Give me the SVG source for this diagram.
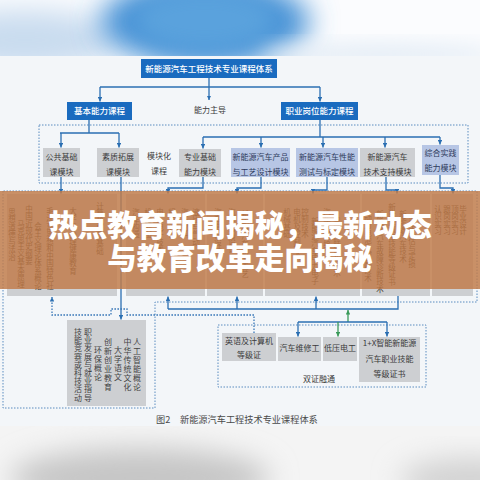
<svg xmlns="http://www.w3.org/2000/svg" width="480" height="480" viewBox="0 0 480 480">
<defs>
<filter id="blur" x="-50%" y="-50%" width="200%" height="200%"><feGaussianBlur stdDeviation="14"/></filter>
<filter id="blur2" x="-50%" y="-50%" width="200%" height="200%"><feGaussianBlur stdDeviation="10"/></filter>
<clipPath id="topClip"><rect x="0" y="0" width="480" height="56"/></clipPath>
<clipPath id="botClip"><rect x="0" y="426" width="480" height="54"/></clipPath>
<marker id="ah" viewBox="0 0 6 6" refX="6" refY="3" markerWidth="4.5" markerHeight="4.5" orient="auto" markerUnits="userSpaceOnUse"><path d="M0,0 L6,3 L0,6 z" fill="#2b6fb2"/></marker>
<marker id="ahg" viewBox="0 0 6 6" refX="6" refY="3" markerWidth="4.5" markerHeight="4.5" orient="auto" markerUnits="userSpaceOnUse"><path d="M0,0 L6,3 L0,6 z" fill="#3a9a5a"/></marker>
</defs>
<style>
.hd{fill:#1a6bbf}
.gb{fill:#cdcfd2}
.lb{fill:#b7c6e5}
.ht{font-family:"Noto Sans CJK SC",sans-serif;font-size:8.5px;fill:#ffffff;text-anchor:middle;font-weight:500}
.bt{font-family:"Noto Sans CJK SC",sans-serif;font-size:8px;fill:#3a3a3a;text-anchor:middle}
.lt{font-family:"Noto Sans CJK SC",sans-serif;font-size:8px;fill:#2e3b5c;text-anchor:middle}
.vt{font-family:"Noto Sans CJK SC",sans-serif;font-size:7.5px;fill:#3b3026;writing-mode:vertical-rl}
.vt2{font-family:"Noto Sans CJK SC",sans-serif;font-size:8px;letter-spacing:0.9px;fill:#444444;writing-mode:vertical-rl}
.ln{fill:none;stroke:#2b6fb2;stroke-width:1.3}
.lg{fill:none;stroke:#3a9a5a;stroke-width:1.3}
.dl{fill:none;stroke:#3a78b8;stroke-width:1.3;stroke-dasharray:1.6 1.4}
.df{fill:none;stroke:#5a8cc0;stroke-width:1;stroke-dasharray:1.5 1.5}
.bn{font-family:"Noto Sans CJK SC",sans-serif;font-size:29.5px;font-weight:900;fill:#ffffff;text-anchor:middle}
</style>

<!-- background -->
<rect x="0" y="0" width="480" height="480" fill="#f3f6f9"/>
<g clip-path="url(#topClip)">
<rect x="0" y="0" width="480" height="56" fill="#fbfcfe"/>
<ellipse cx="25" cy="40" rx="95" ry="30" fill="#c9dcef" filter="url(#blur)"/>
<ellipse cx="205" cy="22" rx="105" ry="44" fill="#4792d6" filter="url(#blur)"/>
<ellipse cx="205" cy="20" rx="70" ry="30" fill="#5aa2dd" filter="url(#blur2)"/>
<ellipse cx="380" cy="54" rx="120" ry="10" fill="#e3ecf5" filter="url(#blur2)"/>
</g>
<g clip-path="url(#botClip)">
<rect x="0" y="426" width="480" height="54" fill="#f4f4f4"/>
<ellipse cx="140" cy="478" rx="130" ry="30" fill="#c6c6c6" filter="url(#blur)"/>
<ellipse cx="470" cy="480" rx="70" ry="22" fill="#d2d2d2" filter="url(#blur)"/>
</g>

<!-- frames -->
<g id="frames">
<rect class="df" x="39" y="125" width="429" height="58"/>
<path class="df" d="M3,191 V408 H155 V302 H477 V191 Z"/>
<rect class="df" x="218" y="325" width="208" height="62"/>
</g>

<!-- header nodes -->
<g id="n-title"><rect class="hd" x="141" y="59" width="136" height="19"/><text class="ht" x="209" y="71.5">新能源汽车工程技术专业课程体系</text></g>
<g id="n-basic"><rect class="hd" x="67" y="102" width="65" height="18"/><text class="ht" x="99.5" y="114">基本能力课程</text></g>
<g id="n-lead"><text class="bt" x="210" y="113" fill="#555">能力主导</text></g>
<g id="n-job"><rect class="hd" x="281" y="102" width="77" height="18"/><text class="ht" x="319.5" y="114">职业岗位能力课程</text></g>

<!-- module nodes -->
<g id="m-public"><rect class="gb" x="43" y="148" width="37" height="29"/><text class="bt" x="61.5" y="159.5">公共基础</text><text class="bt" x="61.5" y="174.5">课模块</text></g>
<g id="m-quality"><rect class="gb" x="97" y="148" width="42" height="29"/><text class="bt" x="118" y="159.5">素质拓展</text><text class="bt" x="118" y="174.5">课模块</text></g>
<g id="m-label"><text class="bt" x="159" y="159" fill="#555">模块化</text><text class="bt" x="159" y="174" fill="#555">课程</text></g>
<g id="m-prof"><rect class="gb" x="179" y="149" width="42" height="28"/><text class="bt" x="200" y="160">专业基础</text><text class="bt" x="200" y="175">能力模块</text></g>
<g id="m-design"><rect class="lb" x="231" y="148" width="59" height="29"/><text class="lt" x="260.5" y="159.5">新能源汽车产品</text><text class="lt" x="260.5" y="174.5">与工艺设计模块</text></g>
<g id="m-test"><rect class="lb" x="296" y="148" width="62" height="29"/><text class="lt" x="327" y="159.5">新能源汽车性能</text><text class="lt" x="327" y="174.5">测试与标定模块</text></g>
<g id="m-support"><rect class="gb" x="360" y="148" width="55" height="29"/><text class="bt" x="387.5" y="159.5">新能源汽车</text><text class="bt" x="387.5" y="174.5">技术支持模块</text></g>
<g id="m-practice"><rect class="lb" x="422" y="145" width="37" height="30"/><text class="lt" x="440.5" y="156">综合实践</text><text class="lt" x="440.5" y="171">能力模块</text></g>

<!-- course row -->
<g id="c-public"><rect class="gb" x="7" y="194" width="110" height="102"/>
<text class="vt" x="12" y="208">思想道德与法治</text>
<text class="vt" x="21" y="220">马克思主义基本原理</text>
<text class="vt" x="29" y="205">中国近现代史纲要</text>
<text class="vt" x="38" y="222">会主义理论体系概论</text>
<text class="vt" x="50" y="207">毛泽东思想和中国特色社</text>
<text class="vt" x="73" y="207">大学生心理健康教育</text>
<text class="vt" x="100" y="202">计算机应用基础</text>
</g>
<g id="c-prof"><rect class="gb" x="126" y="194" width="79" height="102"/>
<text class="vt" x="136" y="208">汽车构造</text>
<text class="vt" x="148" y="208">机械制图</text>
<text class="vt" x="160" y="208">电工电子技术</text>
<text class="vt" x="172" y="208">程序设计</text>
<text class="vt" x="185" y="208">汽车材料</text>
<text class="vt" x="196" y="208">液压与气动</text>
</g>
<g id="c-design"><rect class="gb" x="207" y="194" width="56" height="102"/>
<text class="vt" x="218" y="208">汽车造型设计</text>
<text class="vt" x="232" y="208">汽车结构设计</text>
<text class="vt" x="245" y="210">新能源汽车制造工艺</text>
</g>
<g id="c-test"><rect class="gb" x="265" y="194" width="95" height="102"/>
<text class="vt" x="287" y="208">机械基础</text>
<text class="vt" x="297" y="208">电机及控制技术</text>
<text class="vt" x="305" y="208">控制技术</text>
<text class="vt" x="315" y="217">新能源汽车电力电子</text>
<text class="vt" x="327" y="208">汽车网络技术</text>
<text class="vt" x="337" y="217">智能网联汽车技术</text>
</g>
<g id="c-support"><rect class="gb" x="362" y="194" width="68" height="102"/>
<text class="vt" x="368" y="214">动力电池及控制技术</text>
<text class="vt" x="380" y="210">新能源汽车故障诊断技术</text>
<text class="vt" x="392" y="203">新能源汽车技能等级证书</text>
<text class="vt" x="403" y="210">新能源汽车技术</text>
<text class="vt" x="412" y="215">汽车评估与定损</text>
</g>
<g id="c-practice"><rect class="gb" x="432" y="194" width="41" height="102"/>
<text class="vt" x="438" y="205">认识实习</text>
<text class="vt" x="447" y="205">跟岗实习</text>
<text class="vt" x="455" y="205">顶岗实习</text>
<text class="vt" x="463" y="205">毕业设计</text>
</g>

<!-- bottom-left quality courses -->
<g id="c-quality"><rect class="gb" x="67" y="320" width="79" height="86"/>
<text class="vt2" x="137" y="338">人工智能概论</text>
<text class="vt2" x="127.5" y="338">中华传统文化</text>
<text class="vt2" x="118" y="346">大学语文</text>
<text class="vt2" x="108" y="338">创新创业教育</text>
<text class="vt2" x="98" y="346">环保概论</text>
<text class="vt2" x="88" y="328" style="letter-spacing:0.2px">职业发展与就业指导</text>
<text class="vt2" x="78" y="328" style="letter-spacing:0.2px">技能竞赛或科技活动</text>
</g>

<!-- certificates -->
<g id="cert-eng"><rect class="gb" x="222" y="333" width="54" height="28"/><text class="bt" x="249" y="344">英语及计算机</text><text class="bt" x="249" y="358">等级证</text></g>
<g id="cert-repair"><rect class="gb" x="278" y="337" width="43" height="24"/><text class="bt" x="299.5" y="351">汽车维修工</text></g>
<g id="cert-elec"><rect class="gb" x="323" y="337" width="34" height="24"/><text class="bt" x="340" y="351">低压电工</text></g>
<g id="cert-1x"><rect class="gb" x="359" y="337" width="61" height="45"/><text class="bt" x="389.5" y="346">1+X智能新能源</text><text class="bt" x="389.5" y="362">汽车职业技能</text><text class="bt" x="389.5" y="377">等级证书</text></g>
<g id="cert-label"><text class="bt" x="319" y="382" fill="#555">双证融通</text></g>

<!-- connectors -->
<g id="connectors">
<path class="ln" d="M209,78 V100" marker-end="url(#ah)"/>
<path class="ln" d="M100,87 H320"/>
<path class="ln" d="M100,87 V101.5" marker-end="url(#ah)"/>
<path class="ln" d="M320,87 V101.5" marker-end="url(#ah)"/>
<path class="ln" d="M89,120 V133 M60,133 H119"/>
<path class="ln" d="M61,133 V147.5" marker-end="url(#ah)"/>
<path class="ln" d="M119,133 V147.5" marker-end="url(#ah)"/>
<path class="ln" d="M320,120 V137 M203,137 H440"/>
<path class="ln" d="M203,137 V148.5" marker-end="url(#ah)"/>
<path class="ln" d="M261,137 V147.5" marker-end="url(#ah)"/>
<path class="ln" d="M323,137 V147.5" marker-end="url(#ah)"/>
<path class="ln" d="M385,137 V147.5" marker-end="url(#ah)"/>
<path class="ln" d="M440,137 V144.5" marker-end="url(#ah)"/>
<path class="ln" d="M61,177 V193.5" marker-end="url(#ah)"/>
<path class="ln" d="M121,177 V319.5" marker-end="url(#ah)"/>
<path class="ln" d="M203,177 V188 H168 V193.5" marker-end="url(#ah)"/>
<path class="ln" d="M261,177 V188 H237 V193.5" marker-end="url(#ah)"/>
<path class="ln" d="M327,177 V190 H313 V193.5" marker-end="url(#ah)"/>
<path class="ln" d="M386,177 V190 H397 V193.5" marker-end="url(#ah)"/>
<path class="ln" d="M440,175 V188 H453 V193.5" marker-end="url(#ah)"/>
<path class="ln" d="M168,309 H398 V296"/>
<path class="ln" d="M168,309 V296.5" marker-end="url(#ah)"/>
<path class="ln" d="M237,309 V296.5" marker-end="url(#ah)"/>
<path class="ln" d="M316,309 V296.5" marker-end="url(#ah)"/>
<path class="lg" d="M348,322 V310" marker-end="url(#ahg)"/>
<path class="ln" d="M298,322 H387"/>
<path class="ln" d="M298,322 V336.5" marker-end="url(#ah)"/>
<path class="lg" d="M338,322 V336.5" marker-end="url(#ahg)"/>
<path class="ln" d="M387,322 V336.5" marker-end="url(#ah)"/>
<path class="dl" d="M254,333 V315 H127 V309 H111 V315 H52 V297" marker-end="url(#ah)"/>
</g>

<!-- caption -->
<g id="caption"><text font-family="'Noto Sans CJK SC',sans-serif" font-size="9.2" fill="#4a4a4a" x="156" y="422.5">图2<tspan x="180">新能源汽车工程技术专业课程体系</tspan></text></g>

<!-- overlay banner -->
<g id="banner">
<rect x="0" y="191" width="480" height="98" fill="#c07b49" opacity="0.83"/>
<text class="bn" x="240" y="235.5">热点教育新闻揭秘，最新动态<tspan x="240" y="268.5">与教育改革走向揭秘</tspan></text>
</g>
</svg>
